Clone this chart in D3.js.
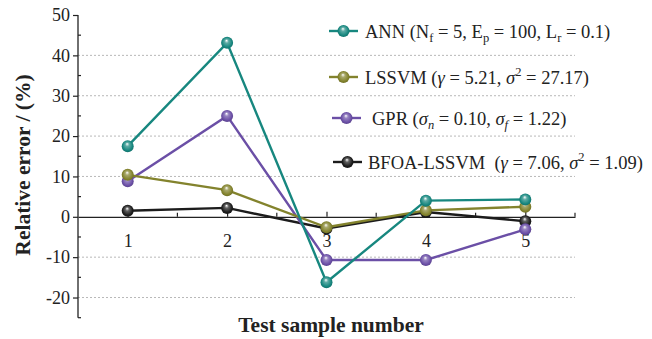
<!DOCTYPE html>
<html>
<head>
<meta charset="utf-8">
<script src="https://cdn.jsdelivr.net/npm/d3@7"></script>
<style>
  body { margin: 0; background: #fff; }
  svg text { font-family: "Liberation Serif", "Times New Roman", serif; fill: #222; }
</style>
</head>
<body>
<svg id="chart" width="652" height="339"></svg>
<script>
// sample numbers and relative errors (%)
const samples = [1, 2, 3, 4, 5];
const ann = [17.5, 43.1, -16.2, 4.0, 4.3];
const lssvm = [10.4, 6.6, -2.6, 1.6, 2.5];
const gpr = [8.8, 25.0, -10.7, -10.7, -3.1];
const bfoa = [1.5, 2.2, -2.9, 1.2, -1.1];
const yTicks = [-20, -10, 0, 10, 20, 30, 40, 50];
const gridValues = [-20, -10, 10, 20, 30, 40];

const series = [
  {key: 'ann', values: ann, color: '#17877f'},
  {key: 'lssvm', values: lssvm, color: '#83832d'},
  {key: 'gpr', values: gpr, color: '#6b4fa6'},
  {key: 'bfoa', values: bfoa, color: '#1c1c1c'},
];

const svg = d3.select('#chart');
const x = d3.scaleLinear().domain([0.5, 5.5]).range([78, 575]);
const y = d3.scaleLinear().domain([-25, 50]).range([317.7, 15]);

// sphere-look gradients for markers
const defs = svg.append('defs');
series.forEach(s => {
  const g = defs.append('radialGradient').attr('id', 'grad-' + s.key)
    .attr('cx', '50%').attr('cy', '50%').attr('r', '55%')
    .attr('fx', '45%').attr('fy', '30%');
  g.append('stop').attr('offset', '0%').attr('stop-color', '#fff');
  g.append('stop').attr('offset', '30%').attr('stop-color', d3.interpolateRgb(s.color, '#fff')(0.3));
  g.append('stop').attr('offset', '75%').attr('stop-color', s.color);
  g.append('stop').attr('offset', '100%').attr('stop-color', d3.color(s.color).darker(0.6));
});

// dotted grid lines
svg.append('g').selectAll('line').data(gridValues).join('line')
  .attr('x1', x(0.5)).attr('x2', x(5.5))
  .attr('y1', d => y(d)).attr('y2', d => y(d))
  .attr('stroke', '#b8b8b8').attr('stroke-width', 1)
  .attr('stroke-dasharray', '2,2');

const fmt = d => String(d); // plain hyphen for negatives, as in the figure

// y axis
const yAxis = svg.append('g').attr('transform', `translate(${x(0.5)},0)`)
  .call(d3.axisLeft(y).tickValues(yTicks).tickFormat(fmt).tickSize(5).tickPadding(3).tickSizeOuter(0))
  .call(g => g.selectAll('text').attr('font-size', 18).attr('font-family', '"Liberation Serif", serif').attr('fill', '#222'));
yAxis.select('.domain').attr('d', `M0,${y(-25)}V${y(50)}`).attr('stroke', '#222').attr('stroke-width', 1.3);
yAxis.selectAll('.tick line').attr('stroke', '#222').attr('stroke-width', 1.2);
svg.append('g').selectAll('line').data(d3.range(-25, 50, 10)).join('line')
  .attr('x1', x(0.5)).attr('x2', x(0.5) + 3)
  .attr('y1', d => y(d)).attr('y2', d => y(d))
  .attr('stroke', '#222').attr('stroke-width', 1.2);

// x axis along zero
const xAxis = svg.append('g').attr('transform', `translate(0,${y(0)})`)
  .call(d3.axisBottom(x).tickValues(samples).tickFormat(fmt)
    .tickSize(-5).tickPadding(17).tickSizeOuter(0))
  .call(g => g.selectAll('text').attr('font-size', 18).attr('font-family', '"Liberation Serif", serif').attr('fill', '#222'));
xAxis.select('.domain').attr('stroke', '#222').attr('stroke-width', 1.3);
xAxis.selectAll('.tick line').attr('stroke', '#222').attr('stroke-width', 1.2);
svg.append('g').selectAll('line').data([1.5, 2.5, 3.5, 4.5, 5.5]).join('line')
  .attr('x1', d => x(d)).attr('x2', d => x(d))
  .attr('y1', y(0)).attr('y2', y(0) - 4)
  .attr('stroke', '#222').attr('stroke-width', 1.2);

// lines and markers, BFOA drawn first, ANN last
const line = d3.line().x((d, i) => x(samples[i])).y(d => y(d));
series.slice().reverse().forEach(s => {
  const g = svg.append('g');
  g.append('path').attr('d', line(s.values))
    .attr('fill', 'none').attr('stroke', s.color).attr('stroke-width', 2.4);
  g.selectAll('circle').data(s.values).join('circle')
    .attr('cx', (d, i) => x(samples[i])).attr('cy', d => y(d)).attr('r', 6)
    .attr('fill', `url(#grad-${s.key})`);
});

// legend
const legendRows = [
  {key: 'ann', y: 31, x0: 329, tx: 365, parts: [
    ['ANN (N'], ['f', 'sub'], [' = 5, E'], ['p', 'sub'], [' = 100, L'], ['r', 'sub'], [' = 0.1)']]},
  {key: 'lssvm', y: 77, x0: 329, tx: 365, parts: [
    ['LSSVM ('], ['\u03B3', 'it'], [' = 5.21, '], ['\u03C3', 'it'], ['2', 'sup'], [' = 27.17)']]},
  {key: 'gpr', y: 118, x0: 332, tx: 372, parts: [
    ['GPR ('], ['\u03C3', 'it'], ['n', 'subit'], [' = 0.10, '], ['\u03C3', 'it'], ['f', 'subit'], [' = 1.22)']]},
  {key: 'bfoa', y: 162, x0: 333, tx: 368, parts: [
    ['BFOA-LSSVM  ('], ['\u03B3', 'it'], [' = 7.06, '], ['\u03C3', 'it'], ['2', 'sup'], [' = 1.09)']]},
];
legendRows.forEach(r => {
  const s = series.find(d => d.key === r.key);
  const g = svg.append('g');
  g.append('line').attr('x1', r.x0).attr('x2', r.x0 + 29).attr('y1', r.y).attr('y2', r.y)
    .attr('stroke', s.color).attr('stroke-width', 2.4);
  g.append('circle').attr('cx', r.x0 + 14.5).attr('cy', r.y).attr('r', 6)
    .attr('fill', `url(#grad-${s.key})`);
  const t = g.append('text').attr('x', r.tx).attr('y', r.y + 6.5)
    .attr('font-size', 18.5).attr('xml:space', 'preserve').style('white-space', 'pre');
  let shift = 0;
  r.parts.forEach(([txt, style]) => {
    const sp = t.append('tspan').text(txt);
    let dy = 0;
    if (style === 'it' || style === 'subit') sp.attr('font-style', 'italic');
    if (style === 'sub' || style === 'subit') { sp.attr('font-size', 12.5); dy = 4.5; }
    if (style === 'sup') { sp.attr('font-size', 12.5); dy = -8; }
    sp.attr('dy', dy - shift);
    shift = dy;
  });
});

// axis titles
svg.append('text')
  .attr('transform', `translate(30,165) rotate(-90)`)
  .attr('text-anchor', 'middle').attr('font-size', 21.5).attr('font-weight', 'bold')
  .text('Relative error / (%)');
svg.append('text')
  .attr('x', 331).attr('y', 332)
  .attr('text-anchor', 'middle').attr('font-size', 21.5).attr('font-weight', 'bold')
  .text('Test sample number');
</script>
</body>
</html>
